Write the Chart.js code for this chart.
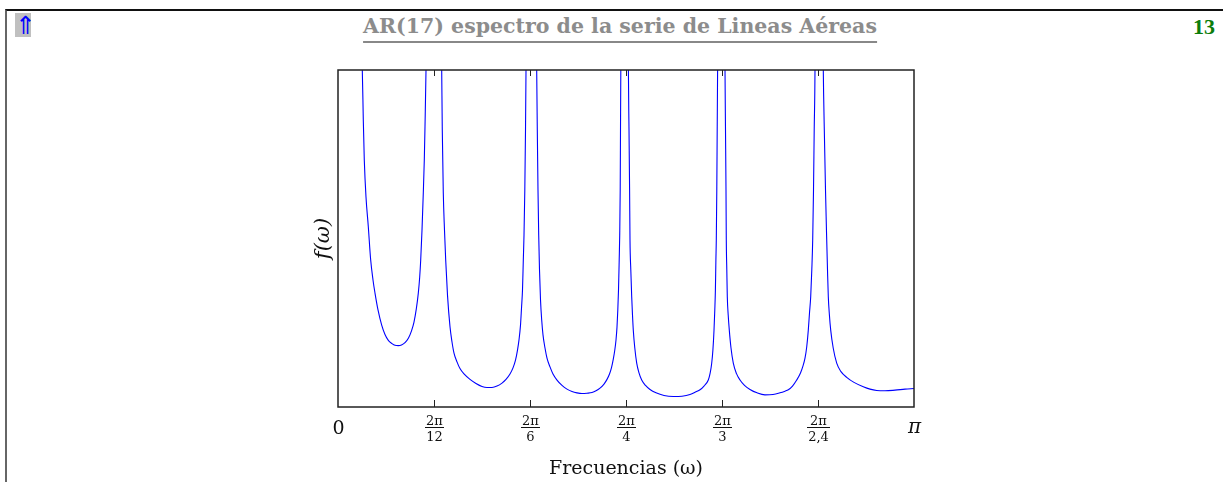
<!DOCTYPE html>
<html>
<head>
<meta charset="utf-8">
<script src="https://cdn.jsdelivr.net/npm/chart.js@4/dist/chart.umd.min.js"></script>
<style>
  html, body { margin: 0; padding: 0; background: #fff; }
  #page { position: relative; width: 1223px; height: 482px; overflow: hidden; background: #fff; }
  #frame { position: absolute; left: 5px; top: 9px; width: 1300px; height: 600px;
           border-top: 2px solid #111; border-left: 2px solid #666; }
  #up { position: absolute; left: 15px; top: 13px; width: 16px; height: 24px; background: #c0c0c0;
        color: #0000ff; font: 25px/25px "DejaVu Sans"; text-align: center; overflow: hidden; }
  #title { position: absolute; left: 620px; top: 16px; transform: translateX(-50%); white-space: nowrap;
           font: bold 20.5px/20px "DejaVu Serif"; color: #8c8c8c;
           padding-bottom: 5px; border-bottom: 2px solid #888; }
  #num { position: absolute; right: 8px; top: 16px; font: bold 22px/22px "Liberation Serif"; color: #0b7d0b; }
  #chart { position: absolute; left: 0; top: 0; }
</style>
</head>
<body>
<div id="page">
  <div id="frame"></div>
  <div id="up">⇑</div>
  <div id="title">AR(17) espectro de la serie de Lineas Aéreas</div>
  <div id="num">13</div>
  <canvas id="chart" width="1223" height="482"></canvas>
</div>
<script>
// frecuencias (radianes) y valores del espectro
const freq = [
    0.0000, 0.0654, 0.1325, 0.1380, 0.1434, 0.1527, 0.1653, 0.1783, 0.1909, 0.2018,
    0.2182, 0.2383, 0.2563, 0.2754, 0.2945, 0.3109, 0.3289, 0.3463, 0.3654, 0.3845,
    0.4009, 0.4145, 0.4271, 0.4380, 0.4456, 0.4511, 0.4582, 0.4652, 0.4707, 0.4745,
    0.4800, 0.5236,
    0.5656, 0.5688, 0.5743, 0.5808, 0.5874, 0.5972, 0.6109, 0.6218, 0.6327, 0.6490,
    0.6654, 0.6872, 0.7199, 0.7526, 0.7854, 0.8127, 0.8399, 0.8672, 0.8945, 0.9163,
    0.9381, 0.9545, 0.9681, 0.9790, 0.9872, 0.9954, 1.0009, 1.0063, 1.0107, 1.0145,
    1.0189, 1.0227, 1.0254, 1.0472,
    1.0837, 1.0870, 1.0908, 1.0947, 1.0990, 1.1045, 1.1110, 1.1181, 1.1290, 1.1399,
    1.1563, 1.1726, 1.1945, 1.2217, 1.2490, 1.2763, 1.3035, 1.3308, 1.3581, 1.3854,
    1.4072, 1.4290, 1.4508, 1.4672, 1.4808, 1.4917, 1.5015, 1.5097, 1.5163, 1.5217,
    1.5261, 1.5299, 1.5337, 1.5365, 1.5392, 1.5408, 1.5425, 1.5708,
    1.5839, 1.5872, 1.5904, 1.5926, 1.5970, 1.6019, 1.6062, 1.6106, 1.6188, 1.6292,
    1.6417, 1.6564, 1.6772, 1.7017, 1.7344, 1.7781, 1.8288, 1.8762, 1.9199, 1.9526,
    1.9744, 1.9962, 2.0197, 2.0300, 2.0382, 2.0448, 2.0508, 2.0551, 2.0584, 2.0611,
    2.0633, 2.0660, 2.0682, 2.0704, 2.0944,
    2.1108, 2.1135, 2.1162, 2.1178, 2.1206, 2.1233, 2.1282, 2.1342, 2.1435, 2.1560,
    2.1735, 2.1926, 2.2171, 2.2471, 2.2853, 2.3289, 2.3726, 2.4107, 2.4380, 2.4560,
    2.4789, 2.5018, 2.5225, 2.5362, 2.5471, 2.5564, 2.5651, 2.5716, 2.5782, 2.5842,
    2.5891, 2.5935, 2.5973, 2.6016, 2.6180,
    2.6469, 2.6524, 2.6589, 2.6655, 2.6698, 2.6742, 2.6802, 2.6873, 2.7009, 2.7200,
    2.7434, 2.7745, 2.8143, 2.8651, 2.9016, 2.9381, 2.9834, 3.0380, 3.0925, 3.1416
];
const spec = [
    30.0, 15.0, 10.0, 8.52, 7.33, 6.23, 5.35, 4.36, 3.77, 3.38,
    2.88, 2.43, 2.15, 1.97, 1.88, 1.83, 1.82, 1.84, 1.91, 2.05,
    2.26, 2.52, 2.91, 3.38, 3.86, 4.36, 5.25, 6.35, 7.33, 8.32,
    10.0, 30.0,
    10.0, 8.22, 6.35, 5.25, 4.36, 3.32, 2.38, 1.93, 1.60, 1.34,
    1.14, 0.98, 0.82, 0.70, 0.61, 0.58, 0.58, 0.62, 0.71, 0.82,
    0.98, 1.16, 1.39, 1.69, 1.99, 2.43, 2.94, 3.47, 4.36, 5.10,
    6.44, 8.22, 10.0, 30.0,
    10.0, 8.22, 6.44, 5.10, 4.07, 3.18, 2.58, 2.14, 1.75, 1.45,
    1.19, 0.98, 0.80, 0.64, 0.53, 0.46, 0.42, 0.40, 0.41, 0.43,
    0.48, 0.56, 0.68, 0.82, 0.98, 1.17, 1.42, 1.69, 1.99, 2.37,
    2.88, 3.47, 4.36, 5.10, 6.44, 8.22, 10.0, 30.0,
    10.0, 8.22, 6.44, 4.96, 4.07, 3.27, 2.73, 2.28, 1.75, 1.30,
    1.01, 0.80, 0.64, 0.52, 0.42, 0.34, 0.31, 0.32, 0.37, 0.45,
    0.51, 0.62, 0.80, 1.01, 1.30, 1.69, 2.28, 2.88, 3.47, 4.36,
    4.96, 6.44, 8.22, 10.0, 30.0,
    10.0, 8.22, 6.44, 4.96, 4.07, 3.27, 2.73, 2.28, 1.75, 1.30,
    0.99, 0.80, 0.64, 0.52, 0.42, 0.36, 0.37, 0.42, 0.47, 0.51,
    0.62, 0.80, 1.01, 1.22, 1.45, 1.78, 2.28, 2.79, 3.27, 4.07,
    4.96, 6.44, 8.22, 10.0, 30.0,
    10.0, 8.22, 6.44, 4.96, 4.07, 3.27, 2.73, 2.28, 1.75, 1.30,
    1.05, 0.88, 0.73, 0.60, 0.53, 0.49, 0.48, 0.50, 0.53, 0.55
];

// marcas del eje x
const tickValues = [0, 2 * Math.PI / 12, 2 * Math.PI / 6, 2 * Math.PI / 4, 2 * Math.PI / 3, 2 * Math.PI / 2.4, Math.PI];
const tickNums = ['0', '2π', '2π', '2π', '2π', '2π', 'π'];
const tickDens = [null, '12', '6', '4', '3', '2,4', null];

const serif = '"DejaVu Serif", serif';

const axisDecor = {
    id: 'axisDecor',
    afterDraw(chart) {
        const ctx = chart.ctx;
        const a = chart.chartArea;
        const x = chart.scales.x;
        ctx.save();
        ctx.strokeStyle = '#222';
        ctx.lineWidth = 1.5;
        ctx.strokeRect(a.left, a.top, a.right - a.left, a.bottom - a.top);
        ctx.lineWidth = 1;
        ctx.fillStyle = '#111';
        ctx.textAlign = 'center';
        ctx.textBaseline = 'alphabetic';
        tickValues.forEach((v, i) => {
            const px = Math.round(x.getPixelForValue(v)) + 0.5;
            if (i > 0 && i < tickValues.length - 1) {
                ctx.beginPath();
                ctx.moveTo(px, a.bottom);
                ctx.lineTo(px, a.bottom - 7);
                ctx.moveTo(px, a.top);
                ctx.lineTo(px, a.top + 6);
                ctx.stroke();
            }
            if (tickDens[i]) {
                ctx.font = '13px ' + serif;
                ctx.fillText(tickNums[i], px, a.bottom + 18);
                const w = Math.max(ctx.measureText(tickNums[i]).width, ctx.measureText(tickDens[i]).width) + 2;
                ctx.fillRect(Math.round(px - w / 2), a.bottom + 20, Math.round(w), 1);
                ctx.fillText(tickDens[i], px, a.bottom + 34);
            } else if (tickNums[i] === 'π') {
                ctx.font = 'italic 20px ' + serif;
                ctx.fillText(tickNums[i], px, a.bottom + 26);
            } else {
                ctx.font = '19px ' + serif;
                ctx.fillText(tickNums[i], px, a.bottom + 27);
            }
        });
        ctx.restore();
    }
};

new Chart(document.getElementById('chart'), {
    type: 'line',
    data: {
        datasets: [{
            label: 'f(ω)',
            data: freq.map((w, i) => ({ x: w, y: spec[i] })),
            borderColor: '#0000ff',
            borderWidth: 1.1,
            pointRadius: 0,
            fill: false,
            cubicInterpolationMode: 'monotone'
        }]
    },
    options: {
        responsive: false,
        animation: false,
        layout: { padding: { left: 308, right: 309, top: 70, bottom: 0 } },
        plugins: {
            legend: { display: false },
            tooltip: { enabled: false }
        },
        scales: {
            x: {
                type: 'linear',
                min: 0,
                max: Math.PI,
                grid: { display: false },
                border: { display: false },
                ticks: { display: false },
                title: {
                    display: true,
                    text: 'Frecuencias (ω)',
                    color: '#111',
                    font: { family: serif, size: 19 },
                    padding: { top: 0, bottom: 2 }
                },
                afterFit(scale) { scale.height = 75; }
            },
            y: {
                min: 0,
                max: 10,
                grid: { display: false },
                border: { display: false },
                ticks: { display: false },
                title: {
                    display: true,
                    text: 'f(ω)',
                    color: '#111',
                    font: { family: serif, size: 21, style: 'italic' },
                    padding: { top: 3, bottom: 0 }
                },
                afterFit(scale) { scale.width = 30; }
            }
        }
    },
    plugins: [axisDecor]
});
</script>
</body>
</html>
